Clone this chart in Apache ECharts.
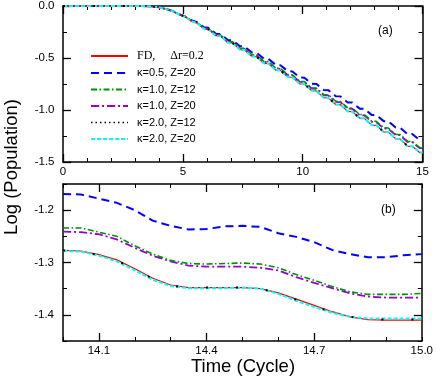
<!DOCTYPE html>
<html><head><meta charset="utf-8">
<script src="https://cdn.jsdelivr.net/npm/echarts@6/dist/echarts.min.js"></script>
<style>html,body{margin:0;padding:0;background:#fff}#c{width:436px;height:379px}</style>
</head><body><div id="c"></div>
<script>
// ---------- data ----------
const seriesNames = ['FD, Δr=0.2', 'κ=0.5, Z=20', 'κ=1.0, Z=12', 'κ=1.0, Z=20', 'κ=2.0, Z=12', 'κ=2.0, Z=20'];

// panel (a): time in cycles
const tTop = [0, 1, 2, 3, 3.5,
  3.88, 4.07, 4.38, 4.57, 4.88, 5.07, 5.38, 5.57, 5.88, 6.07, 6.38, 6.57,
  6.88, 7.07, 7.38, 7.57, 7.88, 8.07, 8.38, 8.57, 8.88, 9.07, 9.38, 9.57,
  9.88, 10.07, 10.38, 10.57, 10.88, 11.07, 11.38, 11.57, 11.88, 12.07, 12.38, 12.57,
  12.88, 13.07, 13.38, 13.57, 13.88, 14.07, 14.38, 14.57, 14.88, 15.0];
const topFD = [0, 0, 0, 0, -0.002,
  -0.008, -0.016, -0.035, -0.050, -0.085, -0.100, -0.148, -0.162,
  -0.218, -0.224, -0.286, -0.289, -0.353, -0.355, -0.419, -0.421,
  -0.485, -0.487, -0.551, -0.553, -0.617, -0.619, -0.683, -0.685,
  -0.749, -0.751, -0.815, -0.817, -0.881, -0.883, -0.947, -0.949,
  -1.013, -1.015, -1.079, -1.081, -1.145, -1.147, -1.211, -1.213,
  -1.276, -1.279, -1.347, -1.349, -1.409, -1.410];
const topK05Z20 = [0, 0, 0, 0, -0.002,
  -0.008, -0.015, -0.034, -0.048, -0.082, -0.097, -0.140, -0.153,
  -0.204, -0.210, -0.266, -0.269, -0.327, -0.329, -0.387, -0.389,
  -0.447, -0.449, -0.507, -0.509, -0.567, -0.569, -0.627, -0.629,
  -0.687, -0.689, -0.747, -0.749, -0.807, -0.809, -0.867, -0.869,
  -0.927, -0.929, -0.987, -0.989, -1.047, -1.049, -1.107, -1.109,
  -1.168, -1.170, -1.233, -1.230, -1.289, -1.285];
const topK10Z12 = [0, 0, 0, 0, -0.002,
  -0.008, -0.016, -0.035, -0.050, -0.083, -0.098, -0.144, -0.157,
  -0.211, -0.217, -0.277, -0.280, -0.342, -0.344, -0.406, -0.408,
  -0.470, -0.472, -0.533, -0.535, -0.597, -0.599, -0.661, -0.663,
  -0.725, -0.727, -0.788, -0.790, -0.852, -0.854, -0.916, -0.918,
  -0.980, -0.982, -1.043, -1.045, -1.107, -1.109, -1.171, -1.173,
  -1.234, -1.236, -1.302, -1.303, -1.361, -1.360];
const topK10Z20 = [0, 0, 0, 0, -0.002,
  -0.008, -0.016, -0.035, -0.050, -0.084, -0.099, -0.145, -0.159,
  -0.213, -0.219, -0.279, -0.282, -0.345, -0.347, -0.410, -0.412,
  -0.474, -0.476, -0.538, -0.540, -0.602, -0.604, -0.666, -0.668,
  -0.730, -0.732, -0.794, -0.796, -0.858, -0.860, -0.922, -0.924,
  -0.986, -0.988, -1.050, -1.052, -1.114, -1.116, -1.178, -1.180,
  -1.241, -1.242, -1.308, -1.308, -1.366, -1.367];
const topK20Z12 = [0, 0, 0, 0, -0.002,
  -0.008, -0.016, -0.035, -0.050, -0.085, -0.100, -0.148, -0.162,
  -0.218, -0.224, -0.285, -0.288, -0.352, -0.354, -0.418, -0.420,
  -0.484, -0.486, -0.550, -0.552, -0.616, -0.618, -0.682, -0.684,
  -0.748, -0.750, -0.814, -0.816, -0.880, -0.882, -0.946, -0.948,
  -1.012, -1.014, -1.078, -1.080, -1.144, -1.146, -1.210, -1.212,
  -1.276, -1.278, -1.347, -1.348, -1.408, -1.409];
const topK20Z20 = [0, 0, 0, 0, -0.002,
  -0.008, -0.016, -0.035, -0.050, -0.086, -0.101, -0.149, -0.163,
  -0.219, -0.225, -0.287, -0.290, -0.354, -0.356, -0.420, -0.422,
  -0.486, -0.488, -0.552, -0.554, -0.618, -0.620, -0.684, -0.686,
  -0.750, -0.752, -0.816, -0.818, -0.882, -0.884, -0.948, -0.950,
  -1.014, -1.016, -1.080, -1.082, -1.146, -1.148, -1.212, -1.214,
  -1.277, -1.279, -1.348, -1.349, -1.407, -1.407];

// panel (b): zoom on the last cycle
const tBottom = [14.00, 14.05, 14.10, 14.15, 14.20, 14.25, 14.30, 14.35, 14.40, 14.45, 14.50,
  14.55, 14.60, 14.65, 14.70, 14.75, 14.80, 14.85, 14.90, 14.95, 15.00];
const botFD = [-1.277, -1.278, -1.285, -1.295, -1.312, -1.330, -1.343, -1.348, -1.348, -1.348, -1.348,
  -1.350, -1.358, -1.370, -1.382, -1.394, -1.404, -1.409, -1.410, -1.410, -1.410];
const botK05Z20 = [-1.169, -1.170, -1.178, -1.186, -1.200, -1.220, -1.230, -1.237, -1.236, -1.231, -1.230,
  -1.232, -1.244, -1.251, -1.261, -1.276, -1.284, -1.290, -1.290, -1.286, -1.284];
const botK10Z12 = [-1.234, -1.234, -1.242, -1.250, -1.268, -1.284, -1.296, -1.302, -1.303, -1.302, -1.301,
  -1.303, -1.310, -1.323, -1.334, -1.346, -1.356, -1.361, -1.361, -1.361, -1.359];
const botK10Z20 = [-1.241, -1.242, -1.246, -1.256, -1.272, -1.287, -1.298, -1.306, -1.308, -1.308, -1.308,
  -1.310, -1.315, -1.328, -1.339, -1.349, -1.359, -1.365, -1.367, -1.367, -1.367];
const botK20Z12 = [-1.277, -1.278, -1.286, -1.296, -1.313, -1.331, -1.344, -1.348, -1.348, -1.348, -1.348,
  -1.350, -1.359, -1.371, -1.383, -1.395, -1.404, -1.408, -1.409, -1.409, -1.409];
const botK20Z20 = [-1.278, -1.279, -1.287, -1.298, -1.315, -1.333, -1.345, -1.349, -1.349, -1.349, -1.348,
  -1.350, -1.360, -1.373, -1.385, -1.396, -1.404, -1.407, -1.407, -1.407, -1.407];

// tick labels
const topXTicks = [0, 5, 10, 15];
const topYTicks = ['0.0', '-0.5', '-1.0', '-1.5'];
const botXMajor = [14.1, 14.4, 14.7, 15.0];
const botYMajor = [-1.4, -1.3, -1.2];

// ---------- chart ----------
const FONT = 'Liberation Sans, Arial, sans-serif';
const styles = [
  { color: '#ff0000', width: 1.2, type: 'solid', z: 5 },
  { color: '#0000ff', width: 2, type: [8, 5], z: 2 },
  { color: '#009000', width: 1.6, type: [6, 2.5, 1.5, 2.5], z: 3 },
  { color: '#9400d3', width: 1.8, type: [8, 3, 2, 3], z: 2 },
  { color: '#000000', width: 2, type: [2, 28], z: 7 },
  { color: '#00ffff', width: 2, type: [4, 2], z: 6 }
];
const topData = [topFD, topK05Z20, topK10Z12, topK10Z20, topK20Z12, topK20Z20];
const botData = [botFD, botK05Z20, botK10Z12, botK10Z20, botK20Z12, botK20Z20];

function mk(ts, vs) { return ts.map((t, i) => [t, vs[i]]); }

const series = [];
seriesNames.forEach((n, i) => {
  const s = styles[i];
  series.push({ name: n, type: 'line', xAxisIndex: 0, yAxisIndex: 0, data: mk(tTop, topData[i]),
    symbol: 'none', z: s.z, lineStyle: { color: s.color, width: s.width, type: s.type }, itemStyle: { color: s.color } });
  series.push({ name: n, type: 'line', xAxisIndex: 2, yAxisIndex: 2, data: mk(tBottom, botData[i]),
    symbol: 'none', z: s.z, lineStyle: { color: s.color, width: s.width, type: s.type }, itemStyle: { color: s.color } });
});

const lineStyleAx = { show: true, onZero: false, lineStyle: { color: '#000', width: 1.5 } };
const noLine = { show: false, onZero: false };
const lbl = (m, extra) => Object.assign({ color: '#000', fontFamily: FONT, fontSize: 11.5, margin: m }, extra || {});

const xAxis = [
  // grid 0
  { type: 'value', gridIndex: 0, position: 'bottom', min: 0, max: 15, interval: 5,
    axisLine: lineStyleAx, splitLine: { show: false },
    axisTick: { inside: true, length: 8, lineStyle: { color: '#000', width: 1.3 } },
    minorTick: { show: true, splitNumber: 5, length: 4, lineStyle: { color: '#000', width: 1 } },
    axisLabel: lbl(3.5, { customValues: topXTicks }) },
  { type: 'value', gridIndex: 0, position: 'top', min: 0, max: 15, interval: 5,
    axisLine: lineStyleAx, splitLine: { show: false },
    axisTick: { inside: true, length: 8, lineStyle: { color: '#000', width: 1.3 } },
    minorTick: { show: true, splitNumber: 5, length: 4, lineStyle: { color: '#000', width: 1 } },
    axisLabel: { show: false } },
  // grid 1 minor
  { type: 'value', gridIndex: 1, position: 'bottom', min: 14, max: 15, interval: 0.1,
    axisLine: lineStyleAx, splitLine: { show: false },
    axisTick: { inside: true, length: 4, lineStyle: { color: '#000', width: 1 } },
    axisLabel: { show: false } },
  { type: 'value', gridIndex: 1, position: 'top', min: 14, max: 15, interval: 0.1,
    axisLine: lineStyleAx, splitLine: { show: false },
    axisTick: { inside: true, length: 4, lineStyle: { color: '#000', width: 1 } },
    axisLabel: { show: false } },
  // grid 1 major
  { type: 'value', gridIndex: 1, position: 'bottom', min: 14, max: 15,
    axisLine: noLine, splitLine: { show: false },
    axisTick: { inside: true, length: 8, customValues: botXMajor.slice(0, 3), lineStyle: { color: '#000', width: 1.3 } },
    axisLabel: lbl(4, { customValues: botXMajor, formatter: v => v.toFixed(1) }) },
  { type: 'value', gridIndex: 1, position: 'top', min: 14, max: 15,
    axisLine: noLine, splitLine: { show: false },
    axisTick: { inside: true, length: 8, customValues: botXMajor.slice(0, 3), lineStyle: { color: '#000', width: 1.3 } },
    axisLabel: { show: false } }
];

const yAxis = [
  { type: 'value', gridIndex: 0, position: 'left', min: -1.5, max: 0, interval: 0.5,
    axisLine: lineStyleAx, splitLine: { show: false },
    axisTick: { inside: true, length: 8, lineStyle: { color: '#000', width: 1.3 } },
    minorTick: { show: true, splitNumber: 2, length: 4, lineStyle: { color: '#000', width: 1 } },
    axisLabel: lbl(8.5, { formatter: v => topYTicks[Math.round(-v / 0.5)] }) },
  { type: 'value', gridIndex: 0, position: 'right', min: -1.5, max: 0, interval: 0.5,
    axisLine: lineStyleAx, splitLine: { show: false },
    axisTick: { inside: true, length: 8, lineStyle: { color: '#000', width: 1.3 } },
    minorTick: { show: true, splitNumber: 2, length: 4, lineStyle: { color: '#000', width: 1 } },
    axisLabel: { show: false } },
  { type: 'value', gridIndex: 1, position: 'left', min: -1.45, max: -1.15, interval: 0.05,
    axisLine: lineStyleAx, splitLine: { show: false },
    axisTick: { inside: true, length: 4, lineStyle: { color: '#000', width: 1 } },
    axisLabel: { show: false } },
  { type: 'value', gridIndex: 1, position: 'right', min: -1.45, max: -1.15, interval: 0.05,
    axisLine: lineStyleAx, splitLine: { show: false },
    axisTick: { inside: true, length: 4, lineStyle: { color: '#000', width: 1 } },
    axisLabel: { show: false } },
  { type: 'value', gridIndex: 1, position: 'left', min: -1.45, max: -1.15,
    axisLine: noLine, splitLine: { show: false },
    axisTick: { inside: true, length: 8, customValues: botYMajor, lineStyle: { color: '#000', width: 1.3 } },
    axisLabel: lbl(9, { customValues: botYMajor, formatter: v => v.toFixed(1) }) },
  { type: 'value', gridIndex: 1, position: 'right', min: -1.45, max: -1.15,
    axisLine: noLine, splitLine: { show: false },
    axisTick: { inside: true, length: 8, customValues: botYMajor, lineStyle: { color: '#000', width: 1.3 } },
    axisLabel: { show: false } }
];

const legendData = seriesNames.map((n, i) => {
  const d = { name: n, itemStyle: { opacity: 0 } };
  if (i === 4) d.lineStyle = { type: [1.5, 3], width: 1.5, color: '#000' };
  return d;
});

const chart = echarts.init(document.getElementById('c'), null, { renderer: 'canvas' });
chart.setOption({
  animation: false,
  backgroundColor: '#fff',
  grid: [
    { left: 63, top: 5, right: 13.5, height: 157, containLabel: false },
    { left: 63, top: 184, right: 13.5, height: 157, containLabel: false }
  ],
  xAxis, yAxis, series,
  legend: {
    data: legendData, orient: 'vertical', left: 90, top: 50, padding: 0, itemWidth: 37, itemHeight: 10, itemGap: 5.5,
    selectedMode: false, itemStyle: { opacity: 0 },
    textStyle: { fontFamily: FONT, fontSize: 11, color: '#000', padding: [0, 0, 0, 4],
      rich: { s: { fontFamily: 'Liberation Serif, Times New Roman, serif', fontSize: 12, color: '#000' } } },
    formatter: n => n === seriesNames[0] ? '{s|FD,     Δr=0.2}' : n
  },
  graphic: [
    { type: 'text', left: 378, top: 25, style: { text: '(a)', font: '12px ' + FONT, fill: '#000' } },
    { type: 'text', left: 381, top: 204, style: { text: '(b)', font: '12px ' + FONT, fill: '#000' } },
    { type: 'text', x: 12, y: 167, rotation: Math.PI / 2,
      style: { text: 'Log (Population)', font: '18.5px ' + FONT, fill: '#000', align: 'center', verticalAlign: 'middle' } },
    { type: 'text', x: 243, y: 367,
      style: { text: 'Time (Cycle)', font: '18.5px ' + FONT, fill: '#000', align: 'center', verticalAlign: 'middle' } }
  ]
});
</script></body></html>
